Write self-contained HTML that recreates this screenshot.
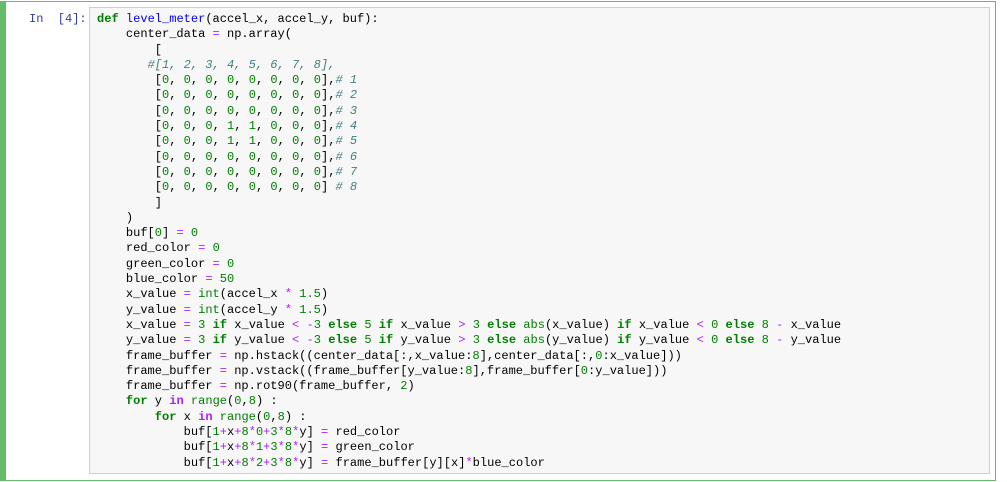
<!DOCTYPE html>
<html><head><style>
body{margin:0;width:1007px;height:482px;background:#fff;position:relative;overflow:hidden}
.cell{position:absolute;left:0;top:1px;border:1px solid #66bb6a;border-left:6px solid #66bb6a;box-sizing:border-box;width:996px;height:480px}
.prompt{position:absolute;left:29px;top:12px;font:12px/15.3px "Liberation Mono",monospace;color:#303F9F}
.box{position:absolute;left:89px;top:7px;width:901px;height:467px;background:#f7f7f7;border:1px solid #cfcfcf;box-sizing:border-box}
pre{position:absolute;left:97px;top:12px;margin:0;font:12.04px/15.3px "Liberation Mono",monospace;color:#000}
.k{color:#008000;font-weight:bold}.n{color:#008000}.o{color:#AA22FF}.c{color:#408080;font-style:italic}.f{color:#0000FF}.b{color:#008000}.ow{color:#AA22FF;font-weight:bold}
</style></head><body>
<div class="cell"></div>
<div class="box"></div>
<div class="prompt">In&nbsp;&nbsp;[4]:</div>
<pre><span class="k">def</span> <span class="f">level_meter</span>(accel_x, accel_y, buf):
    center_data <span class="o">=</span> np.array(
        [
       <span class="c">#[1, 2, 3, 4, 5, 6, 7, 8],</span>
        [<span class="n">0</span>, <span class="n">0</span>, <span class="n">0</span>, <span class="n">0</span>, <span class="n">0</span>, <span class="n">0</span>, <span class="n">0</span>, <span class="n">0</span>],<span class="c"># 1</span>
        [<span class="n">0</span>, <span class="n">0</span>, <span class="n">0</span>, <span class="n">0</span>, <span class="n">0</span>, <span class="n">0</span>, <span class="n">0</span>, <span class="n">0</span>],<span class="c"># 2</span>
        [<span class="n">0</span>, <span class="n">0</span>, <span class="n">0</span>, <span class="n">0</span>, <span class="n">0</span>, <span class="n">0</span>, <span class="n">0</span>, <span class="n">0</span>],<span class="c"># 3</span>
        [<span class="n">0</span>, <span class="n">0</span>, <span class="n">0</span>, <span class="n">1</span>, <span class="n">1</span>, <span class="n">0</span>, <span class="n">0</span>, <span class="n">0</span>],<span class="c"># 4</span>
        [<span class="n">0</span>, <span class="n">0</span>, <span class="n">0</span>, <span class="n">1</span>, <span class="n">1</span>, <span class="n">0</span>, <span class="n">0</span>, <span class="n">0</span>],<span class="c"># 5</span>
        [<span class="n">0</span>, <span class="n">0</span>, <span class="n">0</span>, <span class="n">0</span>, <span class="n">0</span>, <span class="n">0</span>, <span class="n">0</span>, <span class="n">0</span>],<span class="c"># 6</span>
        [<span class="n">0</span>, <span class="n">0</span>, <span class="n">0</span>, <span class="n">0</span>, <span class="n">0</span>, <span class="n">0</span>, <span class="n">0</span>, <span class="n">0</span>],<span class="c"># 7</span>
        [<span class="n">0</span>, <span class="n">0</span>, <span class="n">0</span>, <span class="n">0</span>, <span class="n">0</span>, <span class="n">0</span>, <span class="n">0</span>, <span class="n">0</span>] <span class="c"># 8</span>
        ]
    )
    buf[<span class="n">0</span>] <span class="o">=</span> <span class="n">0</span>
    red_color <span class="o">=</span> <span class="n">0</span>
    green_color <span class="o">=</span> <span class="n">0</span>
    blue_color <span class="o">=</span> <span class="n">50</span>
    x_value <span class="o">=</span> <span class="b">int</span>(accel_x <span class="o">*</span> <span class="n">1.5</span>)
    y_value <span class="o">=</span> <span class="b">int</span>(accel_y <span class="o">*</span> <span class="n">1.5</span>)
    x_value <span class="o">=</span> <span class="n">3</span> <span class="k">if</span> x_value <span class="o">&lt;</span> <span class="o">-</span><span class="n">3</span> <span class="k">else</span> <span class="n">5</span> <span class="k">if</span> x_value <span class="o">&gt;</span> <span class="n">3</span> <span class="k">else</span> <span class="b">abs</span>(x_value) <span class="k">if</span> x_value <span class="o">&lt;</span> <span class="n">0</span> <span class="k">else</span> <span class="n">8</span> <span class="o">-</span> x_value
    y_value <span class="o">=</span> <span class="n">3</span> <span class="k">if</span> y_value <span class="o">&lt;</span> <span class="o">-</span><span class="n">3</span> <span class="k">else</span> <span class="n">5</span> <span class="k">if</span> y_value <span class="o">&gt;</span> <span class="n">3</span> <span class="k">else</span> <span class="b">abs</span>(y_value) <span class="k">if</span> y_value <span class="o">&lt;</span> <span class="n">0</span> <span class="k">else</span> <span class="n">8</span> <span class="o">-</span> y_value
    frame_buffer <span class="o">=</span> np.hstack((center_data[:,x_value:<span class="n">8</span>],center_data[:,<span class="n">0</span>:x_value]))
    frame_buffer <span class="o">=</span> np.vstack((frame_buffer[y_value:<span class="n">8</span>],frame_buffer[<span class="n">0</span>:y_value]))
    frame_buffer <span class="o">=</span> np.rot90(frame_buffer, <span class="n">2</span>)
    <span class="k">for</span> y <span class="ow">in</span> <span class="b">range</span>(<span class="n">0</span>,<span class="n">8</span>) :
        <span class="k">for</span> x <span class="ow">in</span> <span class="b">range</span>(<span class="n">0</span>,<span class="n">8</span>) :
            buf[<span class="n">1</span><span class="o">+</span>x<span class="o">+</span><span class="n">8</span><span class="o">*</span><span class="n">0</span><span class="o">+</span><span class="n">3</span><span class="o">*</span><span class="n">8</span><span class="o">*</span>y] <span class="o">=</span> red_color
            buf[<span class="n">1</span><span class="o">+</span>x<span class="o">+</span><span class="n">8</span><span class="o">*</span><span class="n">1</span><span class="o">+</span><span class="n">3</span><span class="o">*</span><span class="n">8</span><span class="o">*</span>y] <span class="o">=</span> green_color
            buf[<span class="n">1</span><span class="o">+</span>x<span class="o">+</span><span class="n">8</span><span class="o">*</span><span class="n">2</span><span class="o">+</span><span class="n">3</span><span class="o">*</span><span class="n">8</span><span class="o">*</span>y] <span class="o">=</span> frame_buffer[y][x]<span class="o">*</span>blue_color</pre>
</body></html>
